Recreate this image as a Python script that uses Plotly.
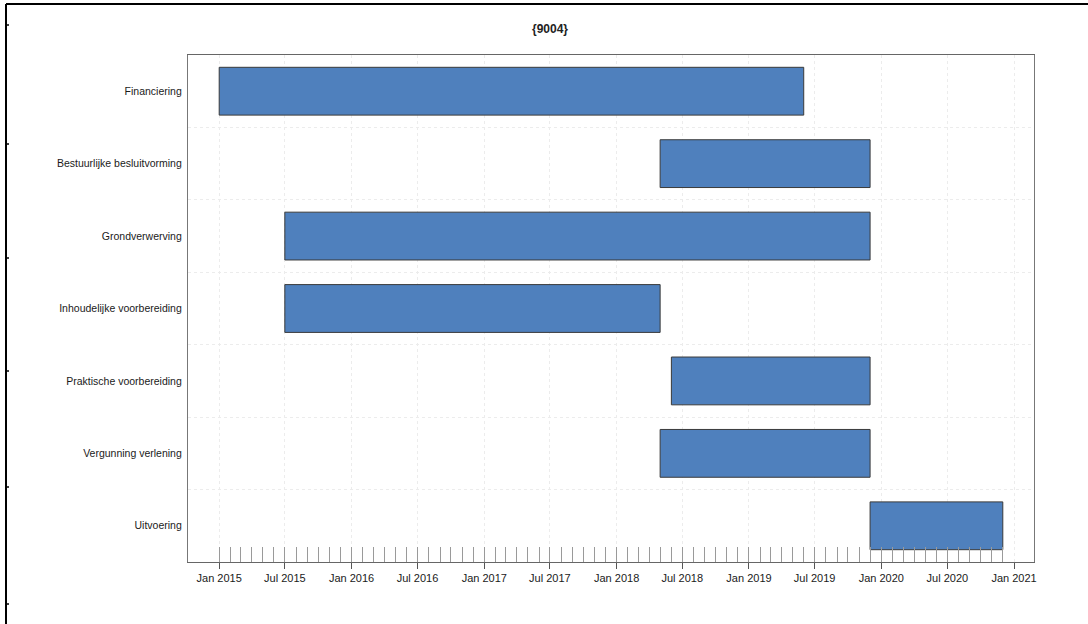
import plotly.graph_objects as go
import pandas as pd

tasks = ["Financiering", "Bestuurlijke besluitvorming", "Grondverwerving",
         "Inhoudelijke voorbereiding", "Praktische voorbereiding",
         "Vergunning verlening", "Uitvoering"]
starts = ["2015-01-01", "2018-05-01", "2015-07-01", "2015-07-01",
          "2018-06-01", "2018-05-01", "2019-12-01"]
ends = ["2019-06-01", "2019-12-01", "2019-12-01", "2018-05-01",
        "2019-12-01", "2019-12-01", "2020-12-01"]
title_text = "{9004}"

W, H = 1088, 624
L, R, T, B = 188, 1034, 55, 562

dur_ms = [(pd.Timestamp(e) - pd.Timestamp(s)).total_seconds() * 1000 for s, e in zip(starts, ends)]

xrange_ = ["2014-10-07", "2021-02-25"]
minor_ticks = [d.strftime("%Y-%m-%d") for d in pd.date_range("2015-01-01", "2020-12-01", freq="MS")]

font_family = "Liberation Sans, Arial, sans-serif"

fig = go.Figure()
fig.add_trace(go.Bar(
    y=tasks, x=dur_ms, base=starts, orientation="h", width=0.66,
    marker=dict(color="#4F80BD", line=dict(color="#3a3a3a", width=1)),
    showlegend=False, hoverinfo="skip",
))
# invisible trace to anchor the minor-tick axis
fig.add_trace(go.Scatter(x=[starts[0]], y=[tasks[0]], xaxis="x2", mode="markers",
                         marker=dict(opacity=0), showlegend=False, hoverinfo="skip"))

def px_x(px):
    return (px - L) / (R - L)

def px_y(py):
    return (B - py) / (B - T)

shapes = [
    dict(type="line", xref="paper", yref="paper", x0=px_x(6), x1=px_x(1090), y0=px_y(4), y1=px_y(4),
         line=dict(color="black", width=2)),
    dict(type="line", xref="paper", yref="paper", x0=px_x(6), x1=px_x(6), y0=px_y(4), y1=px_y(626),
         line=dict(color="black", width=2)),
]
for yy in [25, 144, 258, 371, 487, 604]:
    shapes.append(dict(type="line", xref="paper", yref="paper", x0=px_x(6), x1=px_x(9),
                       y0=px_y(yy), y1=px_y(yy), line=dict(color="black", width=1.5)))

fig.update_layout(
    width=W, height=H,
    margin=dict(l=L, r=W - R, t=T, b=H - B, pad=0),
    paper_bgcolor="white", plot_bgcolor="white",
    font=dict(family=font_family, size=11, color="#222"),
    title=dict(text="<b>" + title_text + "</b>", x=550 / W, xanchor="center", y=1 - 29 / H, yanchor="middle",
               font=dict(family=font_family, size=12, color="#222")),
    bargap=0.34,
    shapes=shapes,
    xaxis=dict(
        type="date", range=xrange_, tick0="2015-01-01", dtick="M6", tickformat="%b %Y",
        ticks="outside", ticklen=6, tickcolor="#555", tickwidth=1,
        showgrid=True, gridcolor="#ececec", griddash="dot", gridwidth=1,
        showline=True, linecolor="#666", linewidth=1.2, mirror=True,
        zeroline=False, tickfont=dict(size=11, color="#1a1a1a"),
    ),
    xaxis2=dict(
        type="date", range=xrange_, overlaying="x", anchor="y", side="bottom",
        tickmode="array", tickvals=minor_ticks, ticks="inside", ticklen=15,
        tickcolor="#9a9a9a", tickwidth=1, showticklabels=False,
        showgrid=False, showline=False, zeroline=False,
    ),
    yaxis=dict(
        type="category", categoryorder="array", categoryarray=tasks,
        range=[6.5, -0.5], tickson="boundaries", ticks="",
        showgrid=True, gridcolor="#ececec", griddash="dot", gridwidth=1,
        showline=True, linecolor="#777", linewidth=1.2, mirror=True,
        zeroline=False, ticklabelstandoff=3, tickfont=dict(size=10.5, color="#1a1a1a"),
    ),
)

fig.write_html("out.html", config={"displayModeBar": False},
               post_script="document.body.style.margin='0';document.body.style.overflow='hidden';")
